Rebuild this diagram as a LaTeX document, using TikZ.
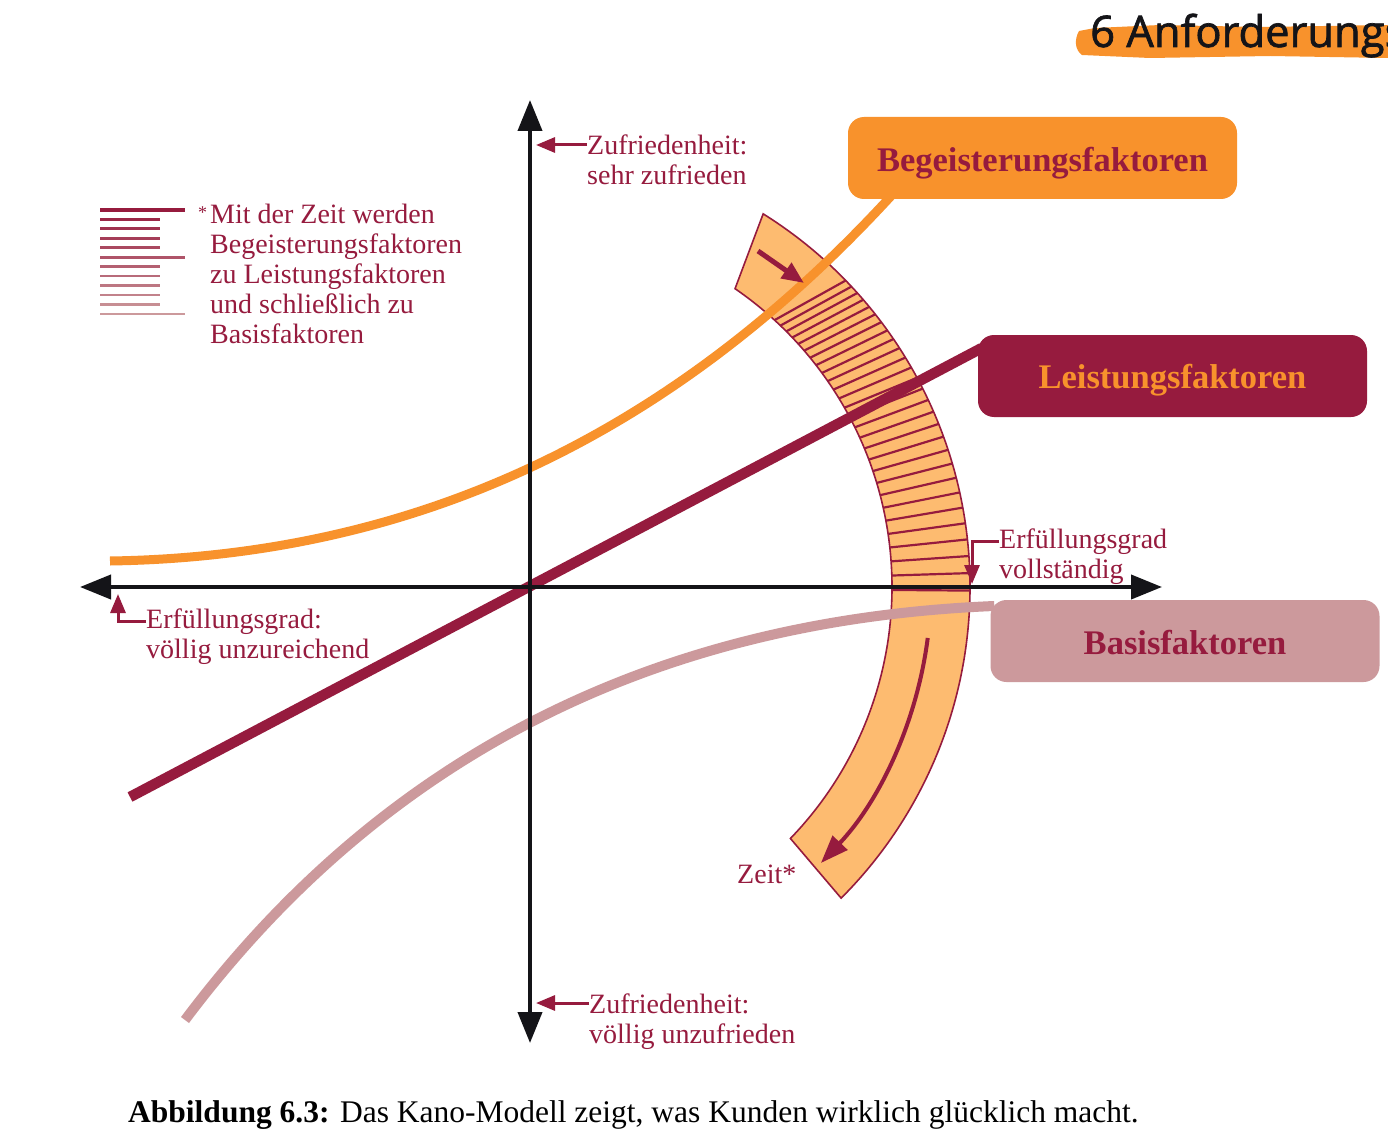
\documentclass[tikz,border=0pt]{standalone}
\usepackage{fontspec}
\setmainfont{Liberation Serif}
\newfontfamily\headfont[FakeBold=1.6]{Open Sans}
\usetikzlibrary{arrows.meta}

\definecolor{kanoRed}{RGB}{150,27,62}
\definecolor{kanoOrange}{RGB}{248,146,44}
\definecolor{kanoBand}{RGB}{253,187,112}
\definecolor{kanoPink}{RGB}{204,153,156}
\definecolor{axisBlack}{RGB}{20,20,24}

\begin{document}
\begin{tikzpicture}[
  x=1pt,y=-1pt,
  factor/.style={rounded corners=16pt,minimum width=389pt,minimum height=82pt,inner sep=0pt,font=\fontsize{34.5}{36}\selectfont\bfseries},
  notetext/.style={text=kanoRed,align=left,anchor=north west,inner sep=0pt,font=\fontsize{28}{30}\selectfont},
  axisline/.style={draw=axisBlack,line width=4pt,{Triangle[length=31pt,width=24pt]}-{Triangle[length=31pt,width=24pt]}},
  pointer/.style={draw=kanoRed,line width=3pt,-{Triangle[length=19pt,width=15pt]}},
  hatch/.style={draw=kanoRed,line width=2.2pt},
  band/.style={fill=kanoBand,draw=kanoRed,line width=1.6pt}
]
  \useasboundingbox (0,0) rectangle (1388,1139);
  \fill[white] (0,0) rectangle (1388,1139);

  \coordinate (origin) at (530,587);
  \coordinate (yTop) at (530,100);
  \coordinate (yBot) at (530,1043);
  \coordinate (xLeft) at (80,587);
  \coordinate (xRight) at (1162,587);

  % Zeitband
  \begin{scope}[shift={(origin)}]
    \filldraw[band] (-58:440) arc[start angle=-58,end angle=45,radius=440]
      -- (44:362) arc[start angle=44,end angle=-55.5,radius=362] -- cycle;
    \foreach \k in {0,...,27}{
      \pgfmathsetmacro\hatchA{-(47.5-1.25*\k-0.0195*\k*\k)}
      \pgfmathsetmacro\hatchB{\hatchA+3*(\hatchA/45)^2}
      \draw[hatch] (\hatchA:362) -- (\hatchB:440);
    }
    \coordinate (timeTail) at (7.3:401);
  \end{scope}

  \node[factor,fill=kanoOrange,text=kanoRed] (begeisterung) at (1042.5,158) {\raisebox{-13.5pt}[0pt][0pt]{Begeisterungsfaktoren}};
  \node[factor,fill=kanoRed,text=kanoOrange] (leistung) at (1172.5,376) {\raisebox{-12pt}[0pt][0pt]{Leistungsfaktoren}};
  \node[factor,fill=kanoPink,text=kanoRed] (basis) at (1185,641) {\raisebox{-13pt}[0pt][0pt]{Basisfaktoren}};

  \coordinate (begStart) at (110,561);
  \coordinate (leistStart) at (130,797);
  \coordinate (basisStart) at (185,1020);

  \draw[kanoOrange,line width=9pt] (begStart) .. controls (440,556) and (690,415) .. ([xshift=44pt,yshift=4pt]begeisterung.south west);
  \draw[kanoRed,line width=10.5pt] (leistStart) -- ([xshift=4pt,yshift=28pt]leistung.west);
  \draw[kanoPink,line width=10pt] (basisStart) .. controls (380,760) and (650,620) .. ([xshift=4pt,yshift=35pt]basis.west);

  \draw[axisline] (xLeft) -- (xRight);
  \draw[axisline] (yTop) -- (yBot);

  \coordinate (risingTail) at (758,251);
  \coordinate (risingTip) at (804,283);
  \draw[kanoRed,line width=5pt,-{Triangle[length=22pt,width=18pt]}] (risingTail) -- (risingTip);
  \draw[kanoRed,line width=4pt,-{Triangle[length=28pt,width=20pt]}] (timeTail) arc[start angle=7.3,end angle=43.5,radius=401];

  \node[notetext] (satHigh) at (587,135) {Zufriedenheit:\\sehr zufrieden};
  \node[notetext] (satLow) at (589,994) {Zufriedenheit:\\völlig unzufrieden};
  \node[notetext] (fulLow) at (146,609) {Erfüllungsgrad:\\völlig unzureichend};
  \node[notetext] (fulHigh) at (999,529) {Erfüllungsgrad\\vollständig};
  \node[notetext] (zeit) at (737,865) {Zeit*};
  \node[notetext] (legendText) at (210,204) {\llap{\raisebox{5pt}{\fontsize{18}{18}\selectfont *}\hspace{3pt}}Mit der Zeit werden\\Begeisterungsfaktoren\\zu Leistungsfaktoren\\und schließlich zu\\Basisfaktoren};

  \coordinate (satHighTip) at (536,145);
  \coordinate (satLowTip) at (536,1003);
  \coordinate (fulLowTip) at (118,594);
  \coordinate (fulHighTip) at (972,584);
  \draw[pointer] ([yshift=-10pt]satHigh.north west) -- (satHighTip);
  \draw[pointer] ([yshift=-9pt]satLow.north west) -- (satLowTip);
  \draw[pointer] ([yshift=-12pt]fulLow.north west) -| (fulLowTip);
  \draw[pointer] ([yshift=-12pt]fulHigh.north west) -| (fulHighTip);

  \foreach \i in {0,...,11}{
    \pgfmathsetmacro\legendMix{100-100*\i/11}
    \pgfmathsetmacro\legendWidth{3.4-1.4*\i/11}
    \pgfmathsetmacro\legendEnd{(\i==0 || \i==5 || \i==11) ? 185 : 160}
    \draw[kanoRed!\legendMix!kanoPink,line width=\legendWidth pt] (100,210+9.45*\i) -- (\legendEnd,210+9.45*\i);
  }

  \fill[kanoOrange] (1079,31) .. controls (1074,40) and (1075,50) .. (1082,55) -- (1150,58) -- (1270,56) -- (1388,58) -- (1388,25) -- (1260,27) -- (1160,25) -- (1095,28) -- cycle;
  \node[anchor=base west,inner sep=0pt,text=axisBlack,font=\headfont\fontsize{43.5}{44}\selectfont] (header) at (1090,47) {6 Anforderungs};

  \node[anchor=base west,inner sep=0pt,font=\fontsize{31.5}{34}\selectfont] (caption) at (128,1122) {\textbf{Abbildung 6.3:} Das Kano-Modell zeigt, was Kunden wirklich glücklich macht.};
\end{tikzpicture}
\end{document}
